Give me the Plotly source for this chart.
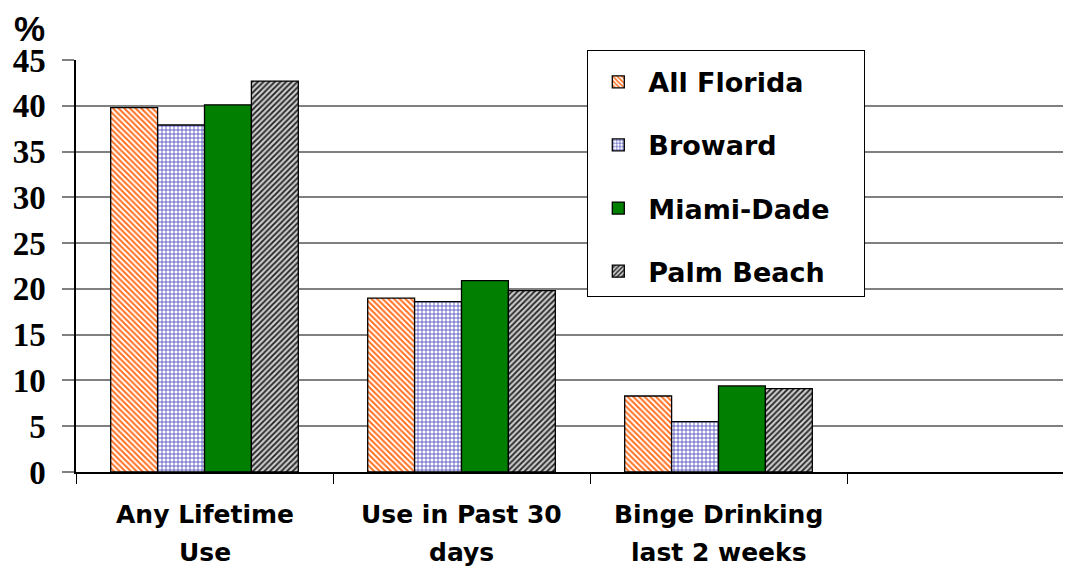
import plotly.graph_objects as go

categories = ["Any Lifetime<br>Use", "Use in Past 30<br>days", "Binge Drinking<br>last 2 weeks"]
series_names = ["All Florida", "Broward", "Miami-Dade", "Palm Beach"]
all_florida = [39.8, 19.0, 8.3]
broward = [37.9, 18.6, 5.5]
miami_dade = [40.1, 20.9, 9.4]
palm_beach = [42.7, 19.8, 9.1]
y_ticks = [0, 5, 10, 15, 20, 25, 30, 35, 40, 45]

series_values = [all_florida, broward, miami_dade, palm_beach]
styles = [
    dict(color="white", pattern=dict(shape="\\", fgcolor="#FF7020", bgcolor="white", size=4, solidity=0.5, fgopacity=1)),
    dict(color="white", pattern=dict(shape="+", fgcolor="#4040B8", bgcolor="white", size=4, solidity=0.35, fgopacity=1)),
    dict(color="#007F00"),
    dict(color="white", pattern=dict(shape="/", fgcolor="#202020", bgcolor="#CCCCCC", size=4, solidity=0.45, fgopacity=1)),
]

fig = go.Figure()
for i, (name, vals, st) in enumerate(zip(series_names, series_values, styles)):
    marker = dict(st)
    marker["line"] = dict(color="black", width=1.3)
    fig.add_trace(go.Bar(x=categories, y=vals, name=name + "\u00a0" * 3,
                         marker=marker, legendgroup=f"g{i}"))

# page body has an 8px margin, so figure is sized/offset accordingly
fig.update_layout(
    width=1063, height=559,
    margin=dict(l=68, r=0, t=52, b=95, pad=0, autoexpand=False),
    paper_bgcolor="white", plot_bgcolor="white",
    barmode="group", bargap=0.27, bargroupgap=0,
    showlegend=True,
    legend=dict(
        x=(587 - 76) / 995, xanchor="left",
        y=(472 - 50) / 412, yanchor="top",
        bgcolor="white", bordercolor="black", borderwidth=1.3,
        font=dict(family="DejaVu Sans", size=27, color="black", weight="bold"),
        itemwidth=50, tracegroupgap=25, traceorder="grouped",
        title=dict(text="\u00a0", font=dict(size=5)),
    ),
    font=dict(family="DejaVu Sans", color="black"),
)

fig.update_xaxes(
    type="category", range=[-0.5, (1071 - 76) / 257 - 0.5], automargin=False,
    showgrid=False, showline=True, linecolor="black", linewidth=1.5,
    ticks="outside", tickson="boundaries", ticklen=10, tickcolor="black", tickwidth=1.3,
    showticklabels=False,
)
fig.update_yaxes(
    range=[0, 45], tickvals=y_ticks, ticktext=[str(v) for v in y_ticks], automargin=False,
    showgrid=True, gridcolor="#808080", gridwidth=1.5,
    showline=True, linecolor="black", linewidth=1.5,
    ticks="outside", ticklen=12, tickcolor="#808080", tickwidth=1.5,
    tickfont=dict(family="Liberation Serif", size=33, color="black", weight="bold"),
    ticklabelstandoff=10, zeroline=False,
)

# two-line category labels, each line placed separately for the wider line spacing
for cat in categories:
    lines = cat.split("<br>")
    for j, line in enumerate(lines):
        fig.add_annotation(
            text=line, x=cat, xref="x", yref="paper", y=0,
            xanchor="center", yanchor="top", yshift=-26 - 38 * j, showarrow=False,
            font=dict(family="DejaVu Sans", size=25, color="black", weight="bold"),
        )

fig.add_annotation(
    text="%", xref="paper", yref="paper", x=0, y=1, xanchor="left", yanchor="top",
    xshift=-63, yshift=52, showarrow=False, borderpad=0,
    font=dict(family="Liberation Sans", size=35, color="black", weight="bold"),
)

fig.write_html("out.html")
